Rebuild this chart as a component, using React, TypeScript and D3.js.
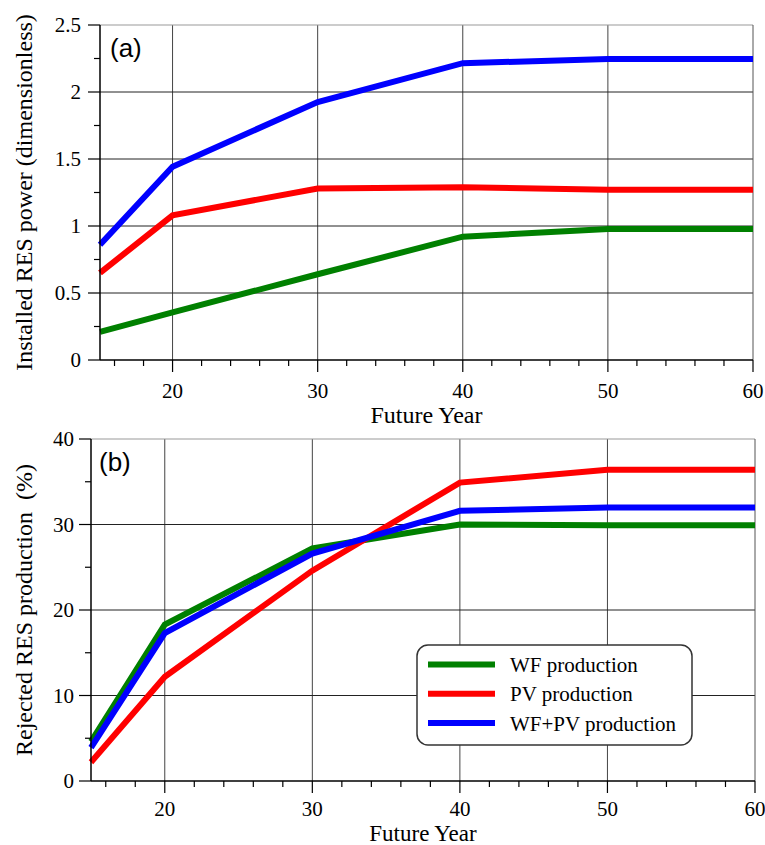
import React from "react";
import * as d3 from "d3";

const years = [15, 20, 30, 40, 50, 60];
const installedWF = [0.21, 0.355, 0.64, 0.92, 0.978, 0.978];
const installedPV = [0.65, 1.08, 1.28, 1.29, 1.27, 1.27];
const installedTotal = [0.86, 1.443, 1.925, 2.215, 2.246, 2.246];
const rejectedWF = [4.6, 18.3, 27.2, 30.0, 29.9, 29.9];
const rejectedPV = [2.2, 12.2, 24.6, 34.9, 36.4, 36.4];
const rejectedTotal = [3.9, 17.3, 26.6, 31.6, 32.0, 32.0];
const xTicks = [20, 30, 40, 50, 60];
const xMinor = [16, 18, 22, 24, 26, 28, 32, 34, 36, 38, 42, 44, 46, 48, 52, 54, 56, 58];
const yTicksA = [0, 0.5, 1, 1.5, 2, 2.5];
const yMinorA = [0.25, 0.75, 1.25, 1.75, 2.25];
const yTicksB = [0, 10, 20, 30, 40];
const yMinorB = [5, 15, 25, 35];
const seriesNames = ["WF production", "PV production", "WF+PV production"];
const seriesColors = ["#008000", "#ff0000", "#0000ff"];

const SERIF = "'Liberation Serif', 'Times New Roman', serif";
const SANS = "'Liberation Sans', Arial, sans-serif";

type PanelProps = {
  left: number; right: number; top: number; bottom: number;
  yMax: number; yTicks: number[]; yMinor: number[];
  series: number[][]; label: string; labelX: number; labelY: number;
  yTitle: string; yLabelRight: number; xTickOffset: number; xTitleOffset: number;
  xTitleSize: number; legend?: boolean;
};

function Panel(p: PanelProps) {
  const x = d3.scaleLinear().domain([15, 60]).range([p.left, p.right]);
  const y = d3.scaleLinear().domain([0, p.yMax]).range([p.bottom, p.top]);
  const line = d3.line<[number, number]>().x((d) => x(d[0])).y((d) => y(d[1]));
  const cy = (p.top + p.bottom) / 2;
  const cx = (p.left + p.right) / 2;
  const fmt = (v: number) => String(v);
  return (
    <g>
      {xTicks.slice(0, -1).map((t) => (
        <line key={"gx" + t} x1={x(t)} x2={x(t)} y1={p.top} y2={p.bottom} stroke="#444" strokeWidth={1} />
      ))}
      {p.yTicks.slice(1, -1).map((t) => (
        <line key={"gy" + t} x1={p.left} x2={p.right} y1={y(t)} y2={y(t)} stroke="#222" strokeWidth={1} />
      ))}
      <line x1={p.left} x2={p.right} y1={p.top} y2={p.top} stroke="#999" strokeWidth={1} />
      <line x1={p.right} x2={p.right} y1={p.top} y2={p.bottom} stroke="#555" strokeWidth={1} />
      {p.series.map((vals, i) => (
        <path key={"s" + i} d={line(years.map((yr, j) => [yr, vals[j]] as [number, number])) || ""}
          fill="none" stroke={seriesColors[i]} strokeWidth={6} strokeLinejoin="miter" strokeLinecap="butt" />
      ))}
      <line x1={p.left} x2={p.right} y1={p.bottom} y2={p.bottom} stroke="#000" strokeWidth={1.5} />
      <line x1={p.left} x2={p.left} y1={p.top} y2={p.bottom} stroke="#000" strokeWidth={1.5} />
      {xTicks.map((t) => (
        <g key={"xt" + t}>
          <line x1={x(t)} x2={x(t)} y1={p.bottom} y2={p.bottom + 12} stroke="#000" strokeWidth={1.2} />
          <text x={x(t)} y={p.bottom + p.xTickOffset} textAnchor="middle" fontFamily={SERIF} fontSize={21} fill="#000">{t}</text>
        </g>
      ))}
      {xMinor.map((t) => (
        <line key={"xm" + t} x1={x(t)} x2={x(t)} y1={p.bottom} y2={p.bottom + 6} stroke="#000" strokeWidth={1.2} />
      ))}
      {p.yTicks.map((t) => (
        <g key={"yt" + t}>
          <line x1={p.left - 12} x2={p.left} y1={y(t)} y2={y(t)} stroke="#000" strokeWidth={1.2} />
          <text x={p.yLabelRight} y={y(t)} dy="0.34em" textAnchor="end" fontFamily={SERIF} fontSize={21} fill="#000">{fmt(t)}</text>
        </g>
      ))}
      {p.yMinor.map((t) => (
        <line key={"ym" + t} x1={p.left - 6} x2={p.left} y1={y(t)} y2={y(t)} stroke="#000" strokeWidth={1.2} />
      ))}
      <text x={cx} y={p.bottom + p.xTitleOffset} textAnchor="middle" fontFamily={SERIF} fontSize={p.xTitleSize} fill="#000">Future Year</text>
      <text transform={`translate(32,${cy}) rotate(-90)`} textAnchor="middle" fontFamily={SERIF} fontSize={24} fill="#000" style={{ whiteSpace: "pre" }}>{p.yTitle}</text>
      <text x={p.labelX} y={p.labelY} fontFamily={SANS} fontSize={26} fill="#000">{p.label}</text>
      {p.legend && (
        <g>
          <rect x={417} y={645} width={275} height={100} rx={11} ry={11} fill="#fff" stroke="#333" strokeWidth={1.5} />
          {seriesNames.map((n, i) => (
            <g key={"lg" + i}>
              <line x1={428} x2={495} y1={664.5 + i * 29.3} y2={664.5 + i * 29.3} stroke={seriesColors[i]} strokeWidth={6} />
              <text x={510} y={672 + i * 29.3} fontFamily={SERIF} fontSize={21} fill="#000">{n}</text>
            </g>
          ))}
        </g>
      )}
    </g>
  );
}

export default function App() {
  return (
    <svg width={765} height={845} style={{ position: "absolute", left: 0, top: 0, background: "#fff" }}>
      <rect x={0} y={0} width={765} height={845} fill="#fff" />
      <Panel left={100} right={753} top={25} bottom={360} yMax={2.5} yTicks={yTicksA} yMinor={yMinorA}
        series={[installedWF, installedPV, installedTotal]} label="(a)" labelX={110} labelY={57}
        yTitle="Installed RES power (dimensionless)" yLabelRight={81} xTickOffset={38} xTitleOffset={63} xTitleSize={24} />
      <Panel left={91} right={755} top={439} bottom={781} yMax={40} yTicks={yTicksB} yMinor={yMinorB}
        series={[rejectedWF, rejectedPV, rejectedTotal]} label="(b)" labelX={99} labelY={471}
        yTitle={"Rejected RES production  (%)"} yLabelRight={74} xTickOffset={35} xTitleOffset={60} xTitleSize={23} legend />
    </svg>
  );
}
